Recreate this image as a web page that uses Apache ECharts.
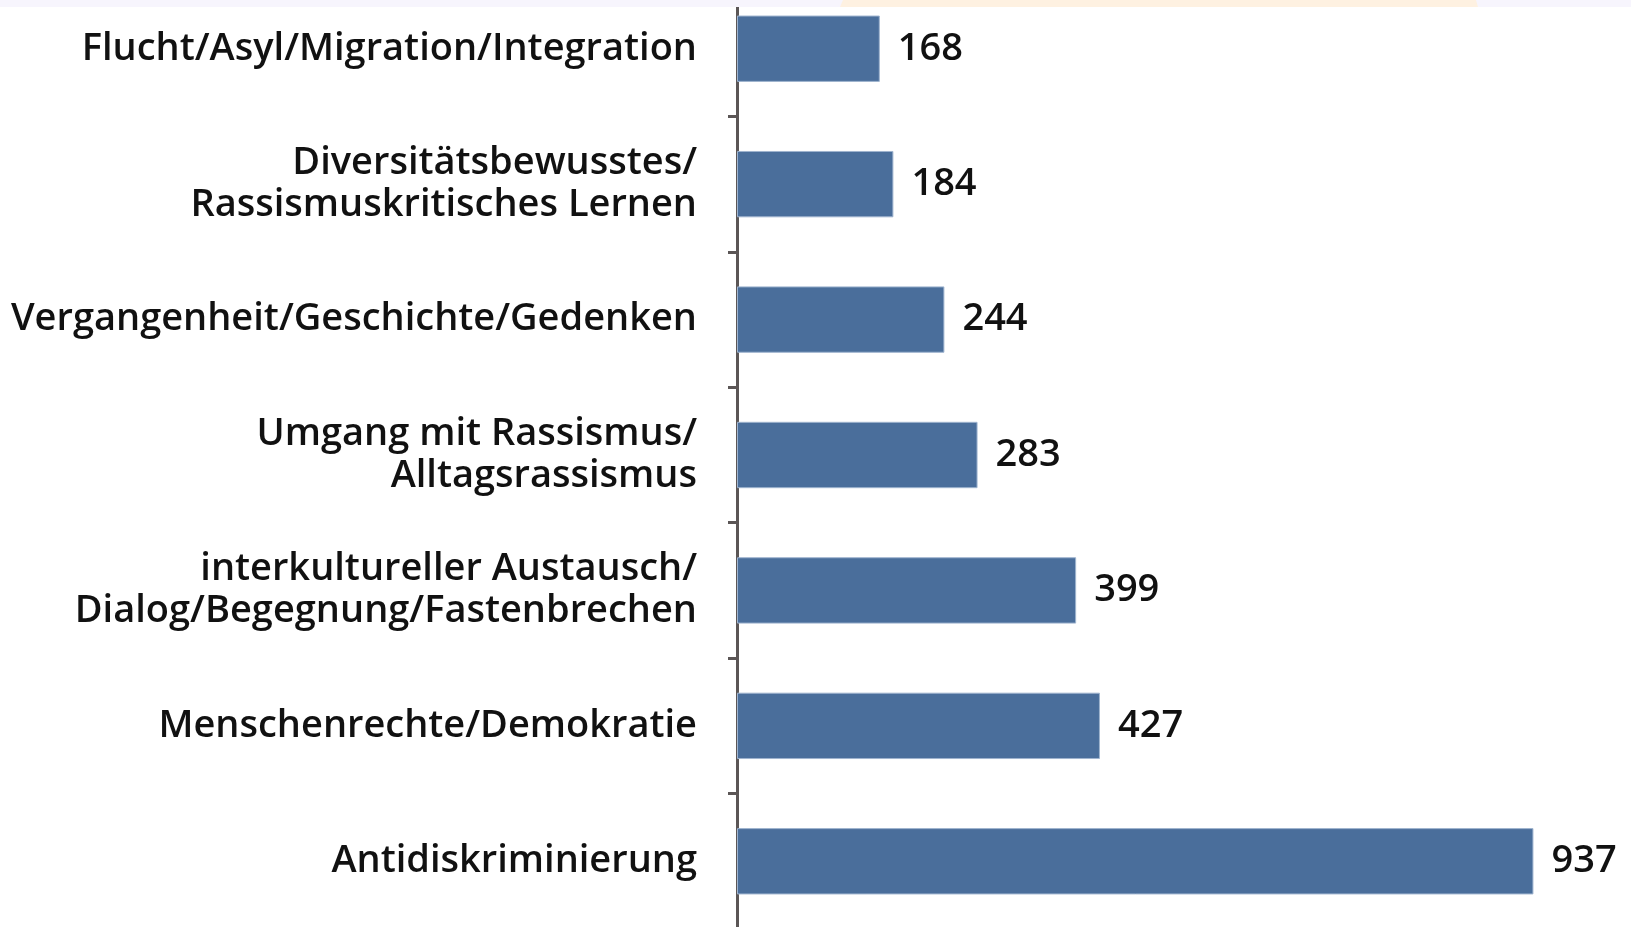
<!DOCTYPE html>
<html>
<head>
<meta charset="utf-8">
<script src="https://cdn.jsdelivr.net/npm/echarts@6/dist/echarts.min.js"></script>
<style>
  html, body { margin: 0; padding: 0; background: #fff; overflow: hidden; }
  /* the chart is cut off at top and bottom in the original */
  #chart { width: 1631px; height: 948px; margin-top: -19px; }
</style>
</head>
<body>
<div id="chart"></div>
<script>
// Themen (von oben nach unten)
const categories = [
    'Flucht/Asyl/Migration/Integration',
    'Diversitätsbewusstes/\nRassismuskritisches Lernen',
    'Vergangenheit/Geschichte/Gedenken',
    'Umgang mit Rassismus/\nAlltagsrassismus',
    'interkultureller Austausch/\nDialog/Begegnung/Fastenbrechen',
    'Menschenrechte/Demokratie',
    'Antidiskriminierung'
];
const values = [168, 184, 244, 283, 399, 427, 937];

const chart = echarts.init(document.getElementById('chart'), null, { renderer: 'canvas' });

const labelFont = {
    color: '#111',
    fontFamily: 'Open Sans',
    fontWeight: 600,
    fontSize: 38
};

chart.setOption({
    animation: false,
    grid: { left: 737, right: 44, top: 0, bottom: 0, containLabel: false },
    xAxis: {
        type: 'value',
        min: 0,
        max: 1000,
        show: false
    },
    yAxis: {
        type: 'category',
        inverse: true,
        data: categories,
        axisLine: { show: true, lineStyle: { color: '#5b5656', width: 3 } },
        axisTick: { show: true, length: 9, lineStyle: { color: '#5b5656', width: 3 } },
        axisLabel: Object.assign({
            margin: 40,
            lineHeight: 42,
            align: 'right'
        }, labelFont),
        splitLine: { show: false }
    },
    series: [{
        type: 'bar',
        data: values,
        barCategoryGap: '51%',
        itemStyle: { color: '#4a6e9b', borderColor: '#9fb4cf', borderWidth: 1 },
        label: Object.assign({
            show: true,
            position: 'right',
            distance: 18
        }, labelFont)
    }],
    graphic: [
        { type: 'rect', left: 0, top: 0, z: 100, shape: { width: 1631, height: 26 }, style: { fill: '#f7f5fd' } },
        { type: 'polygon', z: 101, shape: { points: [[843, 19], [1476, 19], [1478, 26], [840, 26]] }, style: { fill: '#fef1e1' } }
    ]
});
</script>
</body>
</html>
